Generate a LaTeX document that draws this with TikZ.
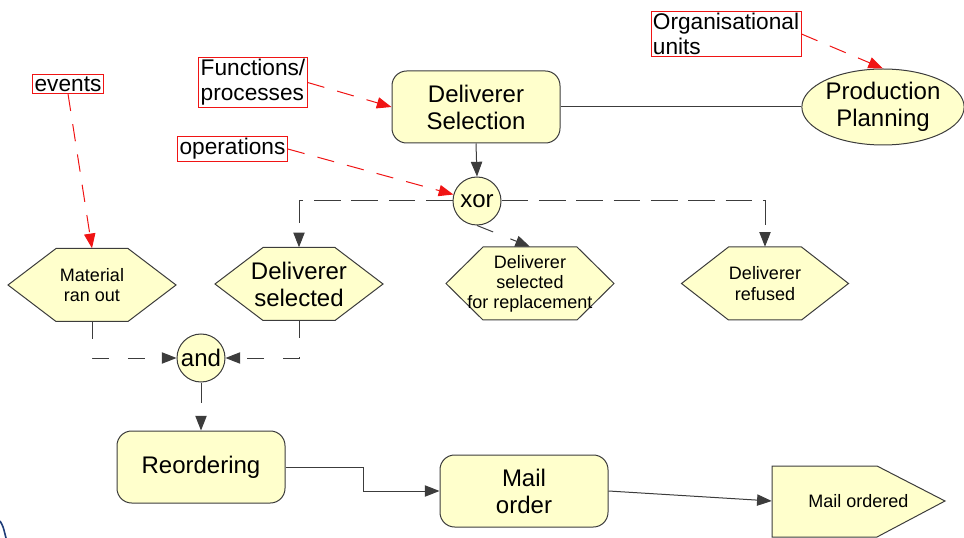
\documentclass[tikz,border=0pt]{standalone}
\usepackage{fontspec}
\setmainfont{Liberation Sans}
\usetikzlibrary{shapes.geometric,arrows.meta}
\definecolor{boxfill}{RGB}{255,255,204}
\definecolor{edgec}{RGB}{60,60,60}
\definecolor{labred}{RGB}{240,20,20}
\newcommand\myhex[5]{\filldraw[shp] (#1-#3,#2) -- (#1-#3+#5,#2-#4) -- (#1+#3-#5,#2-#4) -- (#1+#3,#2) -- (#1+#3-#5,#2+#4) -- (#1-#3+#5,#2+#4) -- cycle;}
\begin{document}
\begin{tikzpicture}[x=0.75pt,y=-0.75pt,
  big/.style={font=\fontsize{18}{20.25}\selectfont},
  small/.style={font=\fontsize{13.5}{15.5}\selectfont},
  shp/.style={draw=edgec, fill=boxfill, line width=0.75pt},
  func/.style={shp, rounded corners=11pt, minimum width=126pt, minimum height=54pt, align=center, big},
  evt/.style={rectangle, minimum width=126pt, minimum height=54.75pt, inner sep=0pt, align=center},
  opcirc/.style={shp, circle, minimum size=36pt, inner sep=0pt, big},
  conn/.style={draw=edgec, line width=0.75pt},
  arr/.style={-{Triangle[length=11pt,width=8.5pt]}},
  dsh/.style={dash pattern=on 20pt off 8pt},
  dshb/.style={dash pattern=on 13pt off 14pt},
  redarr/.style={draw=labred, line width=0.75pt, dash pattern=on 13pt off 10pt, -{Triangle[length=11pt,width=8.5pt,fill=labred]}},
  lbl/.style={draw=labred, line width=0.6pt, inner xsep=1.5pt, inner ysep=1.5pt, align=left, font=\fontsize{17}{18.75}\selectfont}
]
\useasboundingbox (0,0) rectangle (964,538);

% label boxes
\node[lbl] (ev) at (68,84) {events};
\node[lbl] (fp) at (253,82.5) {Functions/\\processes};
\node[lbl] (op) at (232.5,149) {operations};
\node[lbl] (ou) at (726,34) {Organisational\\units};

% functions / org
\node[func] (ds) at (476,107) {Deliverer\\Selection};
\node[shp, ellipse, minimum width=120pt, minimum height=57pt, inner sep=0pt, align=center, big] (pp) at (883,107) {Production\\Planning};

% operators
\node[opcirc] (xor) at (477,201) {xor};
\node[opcirc] (and) at (201,358) {and};

% events
\myhex{92}{285}{84}{36.5}{48}
\node[evt, small] (ms) at (92,285) {Material\\ran out};
\myhex{299}{284}{84}{36.5}{48}
\node[evt, big] (dsel) at (299,284) {Deliverer\\selected};
\myhex{530}{283.5}{84}{36.5}{37}
\node[evt, font=\fontsize{13.5}{15}\selectfont] (drep) at (530,283.5) {Deliverer\\selected\\for replacement};
\myhex{765}{283.5}{83.5}{36.5}{47}
\node[evt, small] (dref) at (765,283.5) {Deliverer\\refused};

\node[func] (reo) at (201,467) {Reordering};
\node[func] (mo) at (524,491) {Mail\\order};
\filldraw[shp] (772,466) -- (877,466) -- (945,501) -- (877,537) -- (772,537) -- cycle;
\node[rectangle, minimum width=129.75pt, minimum height=53pt, inner sep=0pt, small] (mod) at (858.5,501) {Mail ordered};

% red annotation arrows
\draw[redarr] (ev.south) -- (ms.north);
\draw[redarr] (fp.east) -- (ds.west);
\draw[redarr] (op.east) -- (xor);
\draw[redarr] (ou.east) -- (pp.north);

% black connectors
\draw[conn] (ds.east) -- (pp.west);
\draw[conn, arr] (ds.south) -- (xor.north);
\draw[conn, arr, dsh] (xor.west) -| (dsel.north);
\draw[conn, arr, dsh] (xor.east) -| (dref.north);
\draw[conn, arr, dshb] (xor.south) -- (drep.north);
\draw[conn, arr, dshb] (ms.south) |- (and.west);
\draw[conn, arr, dshb] (dsel.south) |- (and.east);
\draw[conn, arr, dash pattern=on 15pt off 10pt] (and.south) -- (reo.north);
\draw[conn, arr] (reo.east) -- ++(78,0) |- (mo.west);
\draw[conn, arr] (mo.east) -- (mod.west);

% small blue arc fragment at lower left
\draw[draw={rgb,255:red,30;green,60;blue,120}, line width=1.2pt] (0,521) .. controls (3,526) .. (6,538);
\end{tikzpicture}
\end{document}
